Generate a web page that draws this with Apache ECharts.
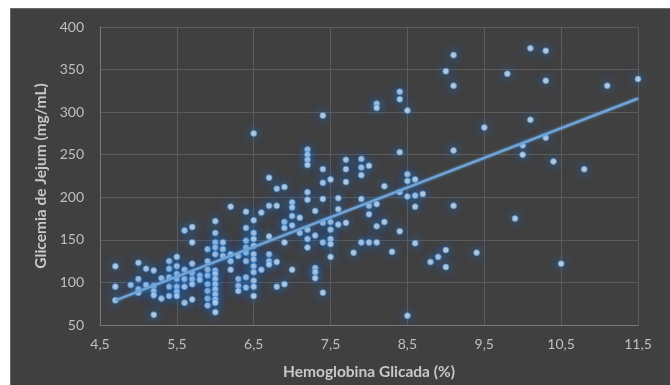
<!DOCTYPE html>
<html>
<head>
<meta charset="utf-8">
<script src="https://cdn.jsdelivr.net/npm/echarts@6/dist/echarts.min.js"></script>
<style>
  html, body { margin: 0; padding: 0; background: #fff; }
  #panel { position: absolute; left: 10px; top: 8px; width: 660px; height: 377px; background: #404040; border-top: 1px solid #6a6a6a; border-left: 1px solid #6a6a6a; box-sizing: border-box; }
  #chart { position: absolute; left: 0; top: 0; width: 670px; height: 385px; }
</style>
</head>
<body>
<div id="panel"></div>
<div id="chart"></div>
<script>
// HbA1c (%) and fasting glucose
const hba1c = [
  4.7, 4.7, 4.7, 4.9, 5.0, 5.0, 5.0, 5.0, 5.1, 5.1,
  5.2, 5.2, 5.2, 5.2, 5.2, 5.3, 5.3, 5.4, 5.4, 5.4, 5.4, 5.4,
  5.5, 5.5, 5.5, 5.5, 5.5, 5.5, 5.5, 5.6, 5.6, 5.6, 5.6, 5.6,
  5.7, 5.7, 5.7, 5.7, 5.7, 5.7, 5.7, 5.8, 5.8,
  5.9, 5.9, 5.9, 5.9, 5.9, 5.9, 5.9, 5.9,
  6.0, 6.0, 6.0, 6.0, 6.0, 6.0, 6.0, 6.0, 6.0, 6.0, 6.0, 6.0, 6.0, 6.0,
  6.1, 6.1, 6.1, 6.2, 6.2, 6.2, 6.2, 6.3, 6.3, 6.3, 6.3,
  6.4, 6.4, 6.4, 6.4, 6.4, 6.4, 6.4, 6.4,
  6.5, 6.5, 6.5, 6.5, 6.5, 6.5, 6.5, 6.5, 6.5, 6.5, 6.5, 6.5,
  6.6, 6.6, 6.7, 6.7, 6.7, 6.7, 6.7, 6.7, 6.8, 6.8, 6.8, 6.8,
  6.9, 6.9, 6.9, 6.9, 6.9, 7.0, 7.0, 7.0, 7.0, 7.0, 7.1, 7.1,
  7.2, 7.2, 7.2, 7.2, 7.2, 7.2, 7.2, 7.2, 7.2,
  7.3, 7.3, 7.3, 7.3, 7.3, 7.4, 7.4, 7.4, 7.4, 7.4, 7.4, 7.4,
  7.5, 7.5, 7.5, 7.5, 7.5, 7.5, 7.6, 7.6, 7.6, 7.7, 7.7, 7.7, 7.7, 7.8,
  7.9, 7.9, 7.9, 7.9, 7.9, 8.0, 8.0, 8.0, 8.0,
  8.1, 8.1, 8.1, 8.1, 8.1, 8.2, 8.2, 8.3,
  8.4, 8.4, 8.4, 8.4, 8.4, 8.5, 8.5, 8.5, 8.5, 8.5,
  8.6, 8.6, 8.6, 8.6, 8.7, 8.8, 8.9, 9.0, 9.0, 9.0,
  9.1, 9.1, 9.1, 9.1, 9.4, 9.5, 9.8, 9.9, 10.0, 10.0,
  10.1, 10.1, 10.3, 10.3, 10.3, 10.4, 10.5, 10.8, 11.1, 11.5
];
const glicemia = [
  119, 95, 79, 97, 123, 104, 92, 88, 116, 97,
  114, 96, 90, 85, 62, 105, 81, 125, 116, 106, 95, 84,
  130, 119, 110, 104, 95, 89, 84, 161, 115, 104, 95, 76,
  165, 147, 122, 111, 104, 98, 80, 108, 103,
  139, 125, 115, 108, 98, 90, 81, 73,
  172, 158, 147, 141, 133, 114, 110, 104, 98, 92, 86, 80, 76, 65,
  147, 139, 131, 189, 133, 125, 115, 131, 104, 96, 90,
  183, 164, 149, 141, 135, 125, 106, 94,
  275, 173, 158, 151, 143, 133, 127, 119, 112, 102, 95, 84,
  182, 115, 223, 190, 154, 133, 125, 121, 210, 190, 124, 95,
  212, 171, 164, 147, 98, 194, 188, 178, 167, 115, 176, 158,
  256, 250, 244, 238, 206, 197, 162, 151, 141,
  184, 155, 117, 112, 105, 296, 233, 217, 198, 170, 147, 88,
  221, 171, 162, 151, 145, 130, 199, 186, 168, 244, 233, 218, 170, 135,
  245, 235, 226, 198, 147, 237, 190, 180, 147,
  310, 305, 192, 166, 147, 213, 171, 136,
  324, 315, 253, 206, 160, 302, 227, 219, 201, 61,
  221, 202, 189, 146, 204, 124, 130, 348, 138, 118,
  367, 331, 255, 190, 135, 282, 345, 175, 261, 250,
  375, 291, 372, 337, 270, 242, 122, 233, 331, 339
];
// linear trendline ends as drawn
const trendX = [4.7, 11.5];
const trendY = [79, 316];

const xTicks = { min: 4.5, max: 11.5, step: 1 };
const yTicks = { min: 50, max: 400, step: 50 };

const labelColor = '#bfbfbf';
const fontFamily = 'Lato, "Open Sans", sans-serif';
const comma = (v) => String(v).replace('.', ',');

const chart = echarts.init(document.getElementById('chart'), null, { renderer: 'canvas' });
chart.setOption({
  backgroundColor: 'transparent',
  animation: false,
  grid: { left: 100, right: 32, top: 27, bottom: 59 },
  xAxis: {
    type: 'value',
    min: xTicks.min, max: xTicks.max, interval: xTicks.step,
    name: 'Hemoglobina Glicada (%)',
    nameLocation: 'middle',
    nameGap: 39,
    nameTextStyle: { color: '#c8c8c8', fontSize: 15.5, fontWeight: 'bold', fontFamily },
    axisLine: { show: true, lineStyle: { color: '#7a7a7a', width: 1 } },
    axisTick: { show: false },
    axisLabel: { color: labelColor, fontSize: 14, fontFamily, margin: 12, formatter: comma },
    splitLine: { show: true, lineStyle: { color: '#5c5c5c', width: 1 } },
  },
  yAxis: {
    type: 'value',
    min: yTicks.min, max: yTicks.max, interval: yTicks.step,
    name: 'Glicemia de Jejum (mg/mL)',
    nameLocation: 'middle',
    nameGap: 48,
    nameTextStyle: { color: '#c8c8c8', fontSize: 15.5, fontWeight: 'bold', fontFamily },
    axisLine: { show: true, lineStyle: { color: '#7a7a7a', width: 1 } },
    axisTick: { show: false },
    axisLabel: { color: labelColor, fontSize: 14, fontFamily, margin: 16 },
    splitLine: { show: true, lineStyle: { color: '#5c5c5c', width: 1 } },
  },
  series: [
    {
      type: 'scatter',
      data: hba1c.map((x, i) => [x, glicemia[i]]),
      symbolSize: 6,
      itemStyle: {
        color: '#dcecfa',
        borderColor: '#4f93d8',
        borderWidth: 1,
        shadowBlur: 11,
        shadowColor: 'rgba(45,125,215,1)',
      },
      z: 2,
    },
    {
      type: 'line',
      data: trendX.map((x, i) => [x, trendY[i]]),
      symbol: 'none',
      lineStyle: { color: '#6fa3d6', width: 2.5, shadowBlur: 3, shadowColor: 'rgba(91,155,213,0.8)' },
      z: 3,
    },
  ],
});
</script>
</body>
</html>
